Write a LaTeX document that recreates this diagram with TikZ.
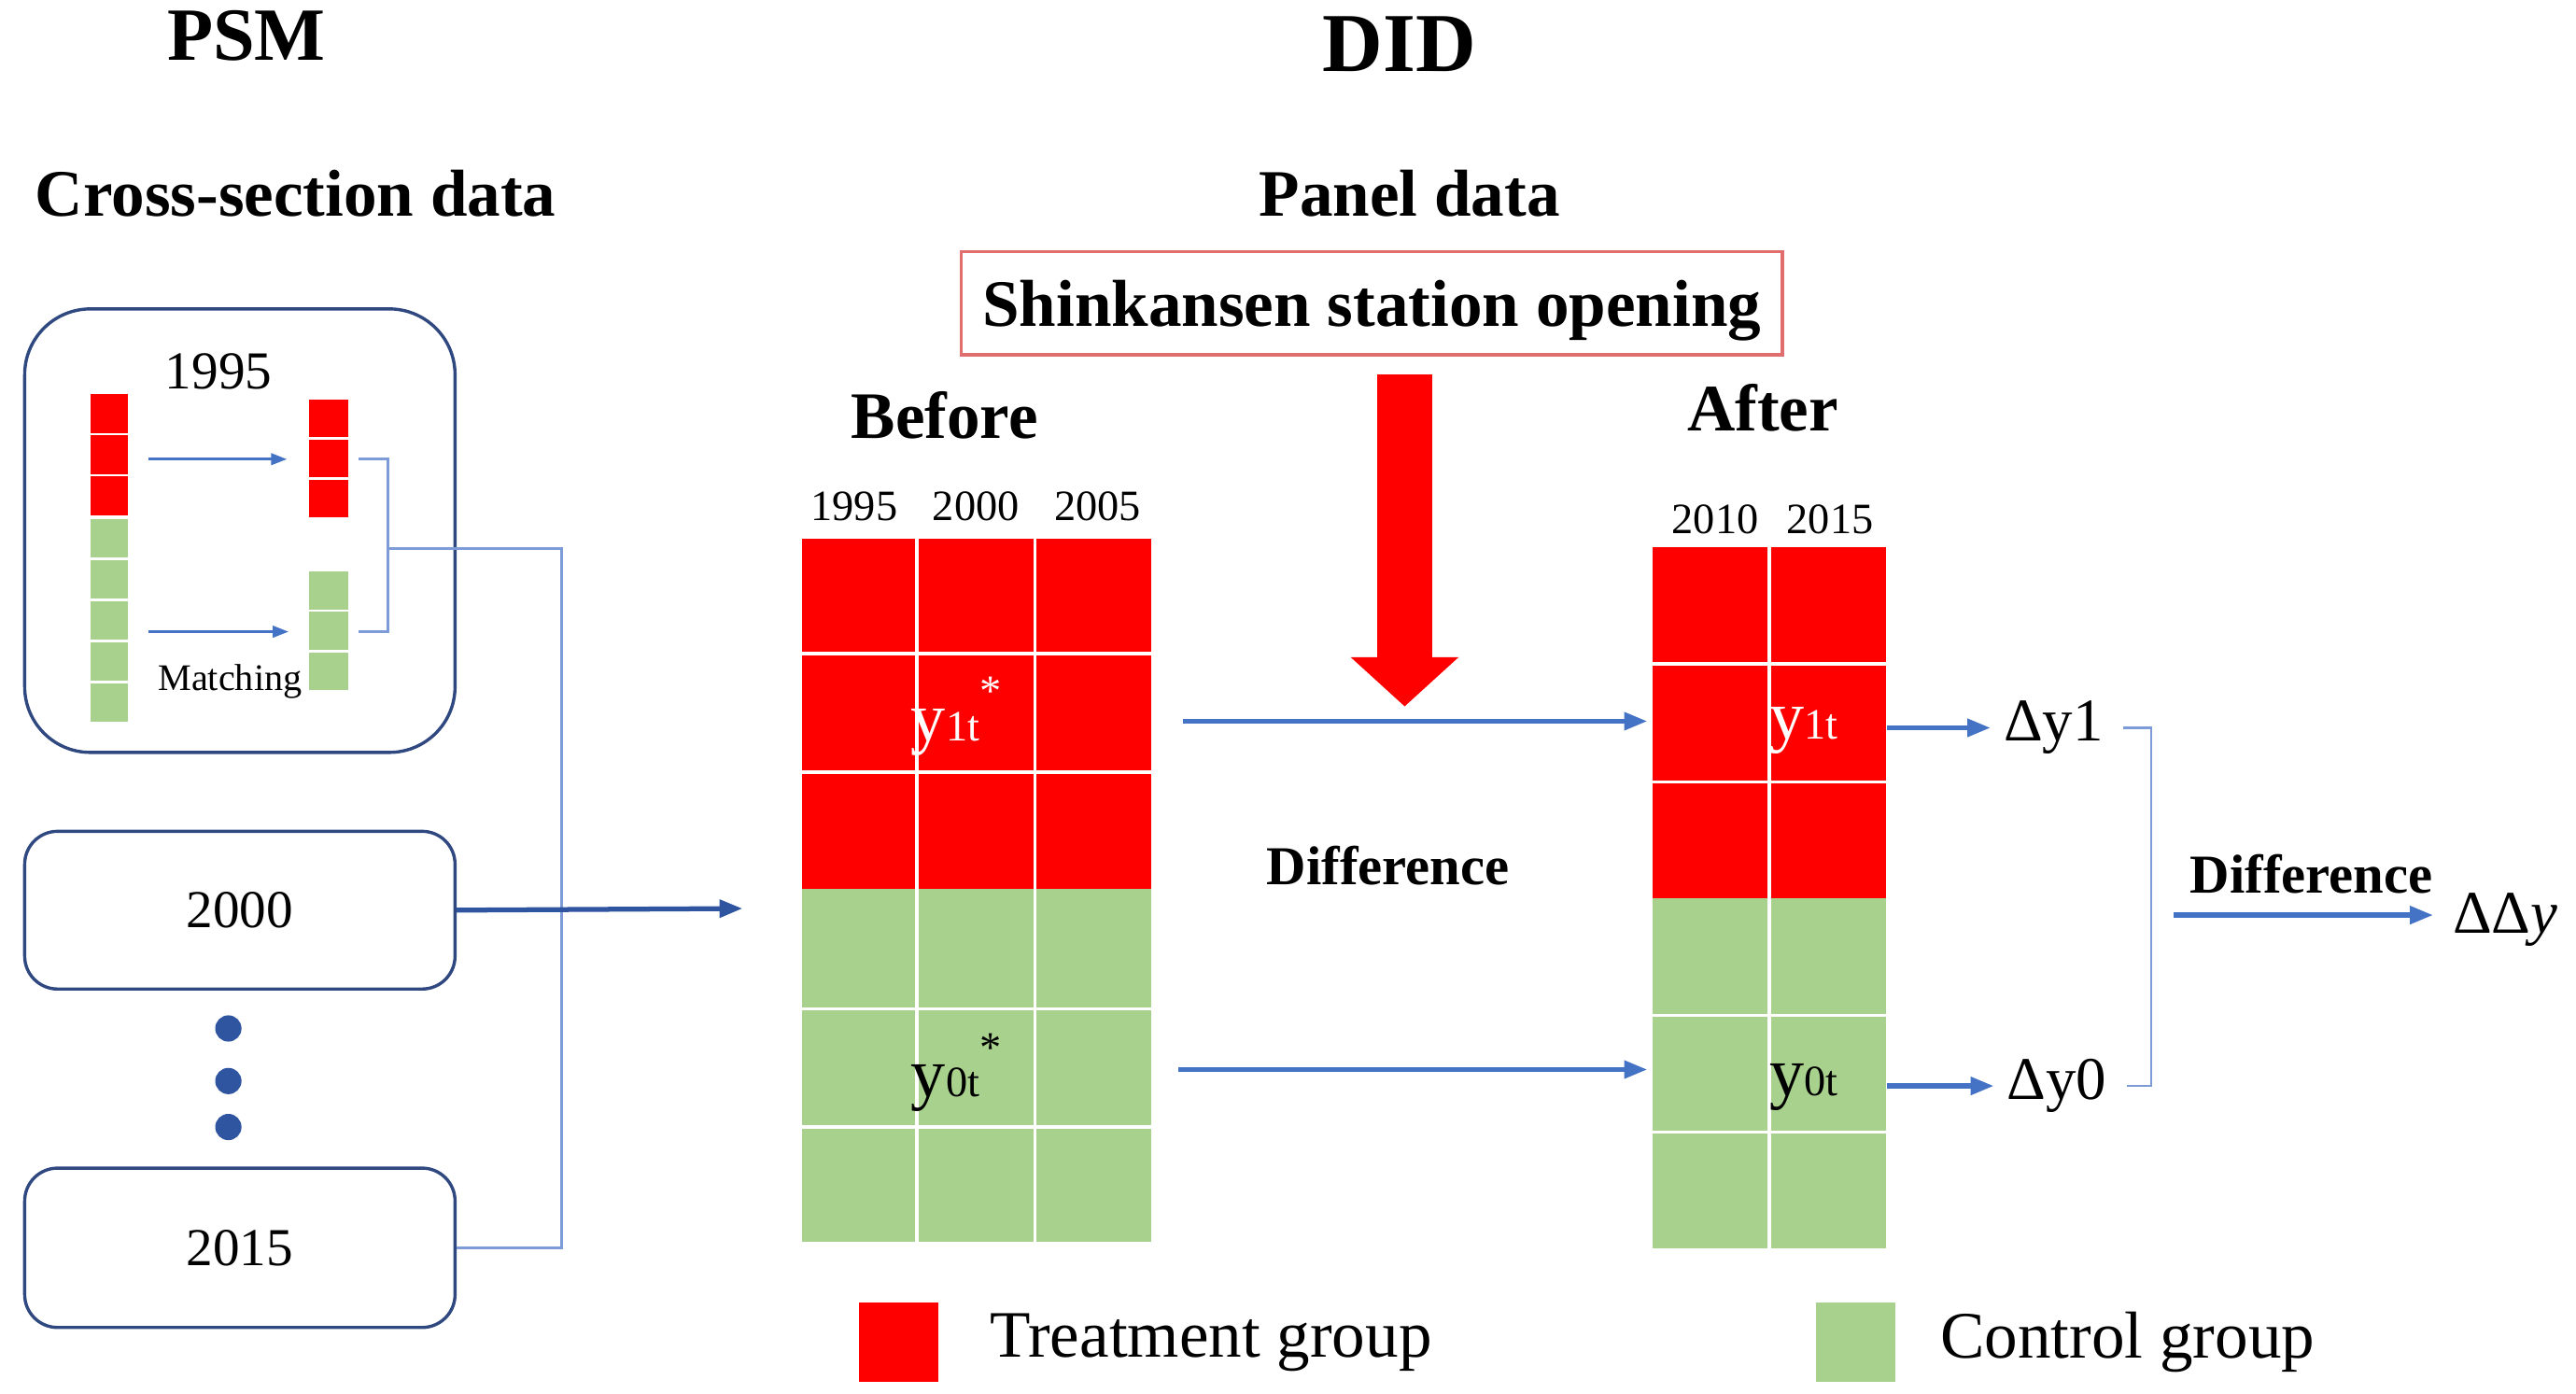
\documentclass[tikz,border=0pt]{standalone}
\usepackage{fontspec}
\setmainfont{Liberation Serif}
\usetikzlibrary{positioning,arrows.meta}

\definecolor{treatred}{RGB}{255,0,0}
\definecolor{ctrlgreen}{RGB}{169,209,142}
\definecolor{arrowblue}{RGB}{68,114,196}
\definecolor{boxblue}{RGB}{47,72,128}
\definecolor{linkblue}{RGB}{125,155,215}
\definecolor{dotblue}{RGB}{47,85,160}
\definecolor{shkred}{RGB}{225,110,110}

\newcommand{\fs}[1]{\fontsize{#1}{#1}\selectfont}
\newcommand{\ysym}[2]{y{\fs{15pt}#1}\raisebox{1.1ex}{\fs{15pt}#2}}

\tikzset{
	heading/.style={font=\fs{23pt}\bfseries},
	yearbox/.style={draw=boxblue, line width=1.1pt, minimum width=5.24cm, rounded corners=0.4cm, font=\fs{18.5pt}},
	colyear/.style={font=\fs{15pt}},
	cellsep/.style={white, line width=1.2pt},
	thinarr/.style={-{Triangle[length=5.5pt,width=4pt]}, arrowblue, line width=0.9pt},
	midarr/.style={-{Triangle[length=8pt,width=6pt]}, arrowblue, line width=1.7pt},
	link/.style={linkblue, line width=1.1pt},
	yeardot/.style={circle, fill=dotblue, minimum size=0.32cm, inner sep=0pt},
	legsq/.style={minimum size=0.96cm, inner sep=0pt},
	deltalab/.style={font=\fs{21pt}, inner sep=1pt},
}

\begin{document}
\begin{tikzpicture}[x=0.02cm,y=-0.02cm]
	\useasboundingbox (0,0) rectangle (1568,848);

	% titles
	\node[font=\fs{26pt}\bfseries] (psm) at (150,22) {PSM};
	\node[font=\fs{29pt}\bfseries] (did) at (852,27) {DID};
	\node[heading] (cross) at (180,118) {Cross-section data};
	\node[heading] (panel) at (858,118) {Panel data};

	% PSM side: one box per year
	\node[yearbox, rounded corners=0.8cm, minimum height=5.4cm] (y1995) at (146,323) {};
	\node[font=\fs{18.5pt}] (lbl1995) at (133,226) {1995};
	\node[yearbox, minimum height=1.92cm] (y2000) at (146,554) {2000};
	\node[yearbox, minimum height=1.94cm] (y2015) at (146,759.5) {2015};
	\foreach \y [count=\i] in {626,658,686}
		\node[yeardot] (dot\i) at (139,\y) {};

	% matching inside 1995
	\foreach \i in {0,1,2} \fill[treatred] (55,{240+25*\i}) rectangle ++(23,23.5);
	\foreach \i in {0,...,4} \fill[ctrlgreen] (55,{316+25*\i}) rectangle ++(23,23.5);
	\foreach \i in {0,1,2} \fill[treatred] (188,{243+24.5*\i}) rectangle ++(24,23);
	\foreach \i in {0,1,2} \fill[ctrlgreen] (188,{348+24.5*\i}) rectangle ++(24,23);
	\node[inner sep=0pt, minimum width=0.46cm, minimum height=4.02cm] (colL) at (66.5,340.5) {};
	\node[inner sep=0pt, minimum width=0.48cm, minimum height=1.46cm] (mT) at (200,279.5) {};
	\node[inner sep=0pt, minimum width=0.48cm, minimum height=1.46cm] (mC) at (200,384.5) {};
	\node[font=\fs{13pt}] (match) at (140,415) {Matching};
	\draw[thinarr, shorten <=0.24cm, shorten >=0.26cm] (colL.east |- mT) -- (mT.west);
	\draw[thinarr, shorten <=0.24cm, shorten >=0.24cm] (colL.east |- mC) -- (mC.west);
	\draw[link, line width=0.9pt] ([xshift=0.12cm]mT.east) -- ++(18,0) |- ([xshift=0.12cm]mC.east);

	% pooling the years
	\coordinate (brk) at (236,334);
	\coordinate (panelin) at (452,553);
	\draw[link] (brk) -- (342,334) |- (y2015.east);
	\draw[midarr, dotblue] (y2000.east) -- (panelin);

	% DID side
	\node[heading] (shk) [draw=shkred, line width=1.1pt, minimum width=10cm, minimum height=1.26cm, text depth=0pt] at (835,184.5) {Shinkansen station opening};
	\coordinate (openTop) at (855,228);
	\coordinate (openTip) at (855,430);
	\draw[treatred, line width=19.3pt, -{Triangle[width=1.28cm,length=0.6cm]}] (openTop) -- (openTip);

	\node[heading] (bef) at (575,253) {Before};
	\node[heading] (aft) at (1073,248) {After};

	% before grid
	\fill[treatred] (488,328) rectangle (701,541);
	\fill[ctrlgreen] (488,541) rectangle (701,756);
	\foreach \x in {558,630} \draw[cellsep] (\x,328) -- (\x,756);
	\foreach \y in {398,470,614,686} \draw[cellsep] (488,\y) -- (701,\y);
	\node[inner sep=0pt, minimum width=4.26cm, minimum height=8.56cm] (before) at (594.5,542) {};
	\foreach \yr/\x in {1995/520,2000/594,2005/668}
		\node[colyear] (yb\yr) at (\x,308) {\yr};

	% after grid
	\fill[treatred] (1006,333) rectangle (1148,547);
	\fill[ctrlgreen] (1006,547) rectangle (1148,760);
	\draw[cellsep] (1077,333) -- (1077,760);
	\foreach \y in {404,476,618,689} \draw[cellsep] (1006,\y) -- (1148,\y);
	\node[inner sep=0pt, minimum width=2.84cm, minimum height=8.54cm] (after) at (1077,546.5) {};
	\foreach \yr/\x in {2010/1044,2015/1114}
		\node[colyear] (ya\yr) at (\x,316) {\yr};

	\node[font=\fs{24pt}, text=white] (y1b) at (582,436) {\ysym{1t}{*}};
	\node[font=\fs{24pt}] (y0b) at (582,653) {\ysym{0t}{*}};
	\node[font=\fs{24pt}, text=white] (y1a) at (1098,444) {\ysym{1t}{}};
	\node[font=\fs{24pt}] (y0a) at (1098,661) {\ysym{0t}{}};

	\coordinate (rowT) at (0,439);
	\coordinate (rowC) at (0,651);
	\draw[midarr, shorten <=0.38cm, shorten >=0.06cm] (before.east |- rowT) -- (after.west |- rowT);
	\draw[midarr, shorten <=0.32cm, shorten >=0.06cm] (before.east |- rowC) -- (after.west |- rowC);
	\node[font=\fs{19pt}\bfseries] (diff) at (845,527) {Difference};

	% right: differences
	\node[deltalab] (dy1) at (1250,443) {Δy1};
	\node[deltalab] (dy0) at (1252,661) {Δy0};
	\draw[midarr, shorten >=0.12cm] (after.east |- dy1) -- (dy1.west);
	\draw[midarr, shorten >=0.12cm] (after.east |- dy0) -- (dy0.west);
	\draw[link, line width=0.7pt] ([xshift=0.2cm]dy1.east) -- ++(17,0) |- ([xshift=0.2cm]dy0.east);
	\node[deltalab] (ddy) at (1525,560) {ΔΔ\textit{y}};
	\coordinate (ddstart) at (1323,557);
	\draw[midarr, shorten >=0.2cm] (ddstart) -- (ddy.west |- ddstart)
		node[midway, above=0.12cm, text=black, font=\fs{19pt}\bfseries] {Difference};

	% legend
	\node[legsq, fill=treatred] (legT) at (547,817) {};
	\node[font=\fs{23pt}, right=0.5cm of legT] (legTt) {Treatment group};
	\node[legsq, fill=ctrlgreen] (legC) at (1129.5,817) {};
	\node[font=\fs{23pt}, right=0.42cm of legC] (legCt) {Control group};
\end{tikzpicture}
\end{document}
